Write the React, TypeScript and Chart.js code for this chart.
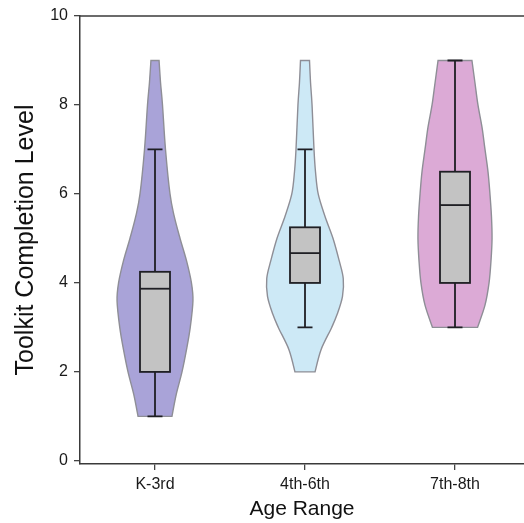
import React, { useEffect, useRef } from "react";
import { Chart, registerables } from "chart.js";

Chart.register(...registerables);

const categories = ["K-3rd", "4th-6th", "7th-8th"];
const yTicks = [0, 2, 4, 6, 8, 10];

// box plot statistics
const whiskerLow = [1, 3, 3];
const q1 = [2, 4, 4];
const median = [3.87, 4.67, 5.75];
const q3 = [4.25, 5.25, 6.5];
const whiskerHigh = [7, 7, 9];

// violin profiles: level values and half-widths (in category units)
const k3Levels = [9, 8.5, 8, 7, 6, 5.5, 5, 4.5, 4, 3.6, 3, 2.5, 2, 1.5, 1];
const k3Widths = [0.027, 0.037, 0.05, 0.07, 0.1, 0.128, 0.167, 0.21, 0.243, 0.253, 0.235, 0.21, 0.18, 0.142, 0.113];

const g46Levels = [9, 8.5, 8, 7, 6.5, 6, 5.5, 5, 4.5, 4.1, 3.7, 3.3, 3, 2.5, 2];
const g46Widths = [0.03, 0.037, 0.047, 0.06, 0.07, 0.088, 0.133, 0.187, 0.228, 0.255, 0.25, 0.215, 0.178, 0.107, 0.067];

const g78Levels = [9, 8.5, 8, 7.5, 7, 6.5, 6, 5.5, 5, 4.5, 4, 3.5, 3];
const g78Widths = [0.113, 0.133, 0.153, 0.18, 0.2, 0.22, 0.233, 0.243, 0.247, 0.24, 0.227, 0.2, 0.15];

const violinLevels = [k3Levels, g46Levels, g78Levels];
const violinWidths = [k3Widths, g46Widths, g78Widths];
const violinColors = ["#a9a3d8", "#cde9f6", "#dcaad6"];

const FONT = "'Liberation Sans', Arial, sans-serif";

type P = { x: number; y: number };

function curveThrough(ctx: CanvasRenderingContext2D, pts: P[]) {
  for (let i = 0; i < pts.length - 1; i++) {
    const p0 = pts[Math.max(i - 1, 0)];
    const p1 = pts[i];
    const p2 = pts[i + 1];
    const p3 = pts[Math.min(i + 2, pts.length - 1)];
    const c1x = p1.x + (p2.x - p0.x) / 6;
    const c1y = p1.y + (p2.y - p0.y) / 6;
    const c2x = p2.x - (p3.x - p1.x) / 6;
    const c2y = p2.y - (p3.y - p1.y) / 6;
    ctx.bezierCurveTo(c1x, c1y, c2x, c2y, p2.x, p2.y);
  }
}

const violinPlugin = {
  id: "violinBox",
  beforeDatasetsDraw(chart: any) {
    const ctx: CanvasRenderingContext2D = chart.ctx;
    const xs = chart.scales.x;
    const ys = chart.scales.y;
    ctx.save();
    categories.forEach((_, i) => {
      const levels = violinLevels[i];
      const widths = violinWidths[i];
      const right: P[] = levels.map((v, k) => ({ x: xs.getPixelForValue(i + widths[k]), y: ys.getPixelForValue(v) }));
      const left: P[] = levels
        .map((v, k) => ({ x: xs.getPixelForValue(i - widths[k]), y: ys.getPixelForValue(v) }))
        .reverse();
      ctx.beginPath();
      ctx.moveTo(right[0].x, right[0].y);
      curveThrough(ctx, right);
      ctx.lineTo(left[0].x, left[0].y);
      curveThrough(ctx, left);
      ctx.closePath();
      ctx.fillStyle = violinColors[i];
      ctx.fill();
      ctx.lineWidth = 1.4;
      ctx.strokeStyle = "#8e8e96";
      ctx.stroke();

      // box plot
      const cx = xs.getPixelForValue(i);
      const bl = xs.getPixelForValue(i - 0.1);
      const br = xs.getPixelForValue(i + 0.1);
      const cl = xs.getPixelForValue(i - 0.05);
      const cr = xs.getPixelForValue(i + 0.05);
      const yLo = ys.getPixelForValue(whiskerLow[i]);
      const yQ1 = ys.getPixelForValue(q1[i]);
      const yMed = ys.getPixelForValue(median[i]);
      const yQ3 = ys.getPixelForValue(q3[i]);
      const yHi = ys.getPixelForValue(whiskerHigh[i]);
      ctx.strokeStyle = "#1f1f24";
      ctx.lineWidth = 1.8;
      ctx.beginPath();
      ctx.moveTo(cx, yQ3);
      ctx.lineTo(cx, yHi);
      ctx.moveTo(cl, yHi);
      ctx.lineTo(cr, yHi);
      ctx.moveTo(cx, yQ1);
      ctx.lineTo(cx, yLo);
      ctx.moveTo(cl, yLo);
      ctx.lineTo(cr, yLo);
      ctx.stroke();
      ctx.fillStyle = "#c3c3c3";
      ctx.fillRect(bl, yQ3, br - bl, yQ1 - yQ3);
      ctx.strokeRect(bl, yQ3, br - bl, yQ1 - yQ3);
      ctx.beginPath();
      ctx.moveTo(bl, yMed);
      ctx.lineTo(br, yMed);
      ctx.stroke();
    });
    ctx.restore();
  },
  afterDraw(chart: any) {
    const ctx: CanvasRenderingContext2D = chart.ctx;
    const a = chart.chartArea;
    ctx.save();
    ctx.strokeStyle = "#3a3a3a";
    ctx.lineWidth = 1.5;
    ctx.beginPath();
    ctx.moveTo(a.left, a.top);
    ctx.lineTo(a.right, a.top);
    ctx.stroke();
    ctx.restore();
  },
};

export default function App() {
  const ref = useRef<HTMLCanvasElement>(null);
  useEffect(() => {
    document.body.style.margin = "0";
    const canvas = ref.current!;
    const chart = new Chart(canvas, {
      type: "scatter",
      data: { datasets: [{ data: [], pointRadius: 0 }] },
      plugins: [violinPlugin],
      options: {
        animation: false,
        responsive: false,
        layout: { padding: { top: 16, right: 0, left: 0, bottom: 0 } },
        plugins: { legend: { display: false }, tooltip: { enabled: false } },
        scales: {
          x: {
            type: "linear",
            min: -0.5,
            max: 2.46,
            afterBuildTicks: (s: any) => {
              s.ticks = categories.map((_, i) => ({ value: i }));
            },
            afterFit: (s: any) => {
              s.height = 59;
            },
            ticks: {
              callback: (v: any) => categories[v as number] ?? "",
              color: "#1a1a1a",
              font: { family: FONT, size: 16 },
              padding: 5,
              maxRotation: 0,
              autoSkip: false,
            },
            grid: { drawOnChartArea: false, drawTicks: true, tickLength: 6, color: "#444", lineWidth: 1.3 },
            border: { display: true, color: "#3a3a3a", width: 1.5 },
            title: {
              display: true,
              text: "Age Range",
              color: "#111",
              font: { family: FONT, size: 21 },
              padding: { top: 0, bottom: 1 },
            },
          },
          y: {
            type: "linear",
            min: -0.07,
            max: 10,
            afterBuildTicks: (s: any) => {
              s.ticks = yTicks.map((v) => ({ value: v }));
            },
            afterFit: (s: any) => {
              s.width = 80;
            },
            ticks: {
              callback: (v: any) => String(v),
              color: "#1a1a1a",
              font: { family: FONT, size: 16 },
              padding: 6,
            },
            grid: { drawOnChartArea: false, drawTicks: true, tickLength: 6, color: "#444", lineWidth: 1.3 },
            border: { display: true, color: "#3a3a3a", width: 1.5 },
            title: {
              display: true,
              text: "Toolkit Completion Level",
              color: "#111",
              font: { family: FONT, size: 25 },
              padding: { top: 11, bottom: 0 },
            },
          },
        },
      },
    });
    return () => chart.destroy();
  }, []);
  return (
    <div style={{ width: 524, height: 523 }}>
      <canvas ref={ref} width={524} height={523} style={{ display: "block" }} />
    </div>
  );
}
